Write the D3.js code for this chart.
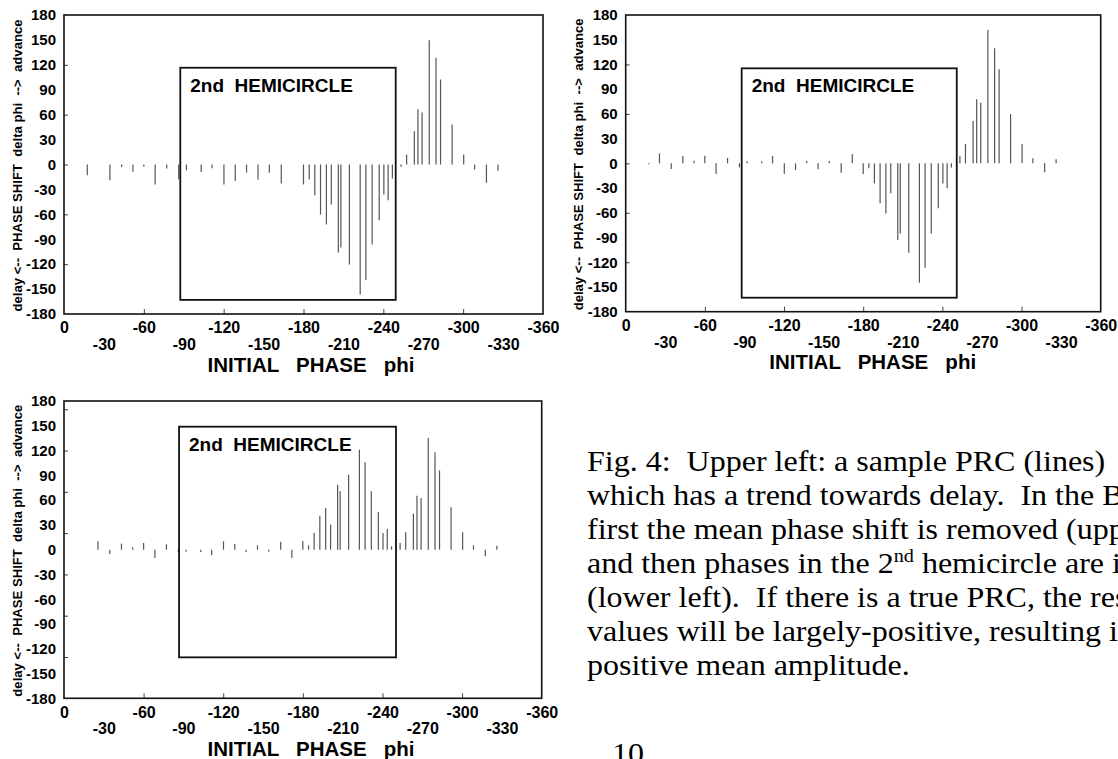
<!DOCTYPE html>
<html>
<head>
<meta charset="utf-8">
<script src="https://cdn.jsdelivr.net/npm/d3@7"></script>
<style>
  html, body { margin: 0; padding: 0; background: #fff; }
  svg { display: block; }
  text { white-space: pre; }
</style>
</head>
<body>
<svg id="chart"></svg>
<script>
// initial phase of every pulse (degrees, axis runs 0 .. -360)
const phases = [
  -17.5, -25.6, -34.5, -43.3, -51.8, -60.0, -68.5, -77.2, -86.2, -92.0,
  -103.1, -111.3, -120.2, -128.7, -137.2, -145.8, -154.3, -163.3, -171.7, -180.0,
  -184.3, -188.5, -192.8, -197.2, -200.9, -206.2, -208.1, -214.5, -222.6, -226.9,
  -231.6, -236.9, -240.4, -243.6, -246.8, -253.3, -257.5, -263.3, -266.0, -269.1,
  -274.5, -279.6, -283.0, -291.7, -300.4, -308.6, -317.5, -326.2
];

// upper left: raw PRC
const shiftRaw = [
  -12.8, 0, -18.9, -3, -8.8, -2.8, -24, -4.8, -17.7, -7,
  -9, -4.5, -24, -20, -9.6, -18.5, -10, -22.9, 0, -24,
  -18, -36.9, -60.2, -72.2, -48.2, -106, -100, -120.4, -156.5, -139.2,
  -96.3, -67, -36.1, -42.9, -16.9, -2.8, 12, 40.1, 66.6, 62.6,
  149.7, 128.4, 102.3, 48.2, 12, -6, -22, -7.6
];

// upper right: mean phase shift removed
const shiftCentered = [
  -1, 12.1, -6.9, 8.9, 3.2, 9.3, -12.9, 6.5, -4.9, 2.4,
  2.4, 8.9, -12.9, -8.1, 2.8, -7.3, 2.8, -11.3, 11.3, -12.9,
  -6, -24.3, -48.5, -60.7, -36.4, -93, -85, -108.4, -144.8, -126.6,
  -85, -54.6, -24.3, -30.3, -4.9, 8.9, 23.5, 51.4, 77.7, 73.6,
  161.8, 139.6, 114.1, 59.9, 23.5, 6.1, -10.9, 4.9
];

// lower left: 2nd hemicircle inverted
const shiftFlipped = [
  0, 10.1, -5.2, 7.3, 2.8, 8, -10.1, 6.5, -3.2, -2.4,
  -2.8, -6.9, 10.1, 6.9, -2.8, 5.2, -2.4, 9.7, -10.1, 10.5,
  5.2, 20.6, 41.2, 50.4, 30.3, 78.7, 70.6, 90.8, 121.1, 105.7,
  70.6, 45.6, 20.2, 25, 4, 8.1, 21, 43.6, 65.4, 62.6,
  135.2, 117.8, 96, 51.3, 21, 5.2, -8.1, 4.8
];

const yTickLabels = [180, 150, 120, 90, 60, 30, 0, -30, -60, -90, -120, -150, -180];
const xTickLabelsTop = [0, -60, -120, -180, -240, -300, -360];
const xTickLabelsBottom = [-30, -90, -150, -210, -270, -330];
const xTickMarks = [-60, -120, -180, -240, -300];
const yTickMarksUpper = [120, 60, 0, -60, -120];
const yTickMarksLower = [170, 120, 70, 20, -30, -80, -130];

// "2nd HEMICIRCLE" frame: [phase from, phase to, shift top, shift bottom]
const hemiBoxLeft = [-87.4, -249.3, 116.5, -163];
const hemiBoxRight = [-87.9, -250.9, 115.3, -163];
const hemiBoxLower = [-86.7, -250.2, 148.9, -130.4];

const captionLines = [
  "Fig. 4:  Upper left: a sample PRC (lines)",
  "which has a trend towards delay.  In the B",
  "first the mean phase shift is removed (upp",
  "and then phases in the 2|nd| hemicircle are i",
  "(lower left).  If there is a true PRC, the res",
  "values will be largely-positive, resulting i",
  "positive mean amplitude."
];
const pageNumber = "10";

const width = 1118;
const height = 759;
const sans = "'Liberation Sans', Arial, sans-serif";
const serif = "'Liberation Serif', 'Times New Roman', serif";
const fmt = (d) => String(d);

const svg = d3.select("#chart").attr("width", width).attr("height", height);
svg.append("rect").attr("width", width).attr("height", height).attr("fill", "#fff");

const panels = [
  { values: shiftRaw, left: 64, right: 543, top: 15, bottom: 314, yMarks: yTickMarksUpper, box: hemiBoxLeft },
  { values: shiftCentered, left: 625.7, right: 1100.7, top: 15, bottom: 311.7, yMarks: yTickMarksUpper, box: hemiBoxRight },
  { values: shiftFlipped, left: 64, right: 541.7, top: 401, bottom: 698.3, yMarks: yTickMarksLower, box: hemiBoxLower }
];

function styleText(sel, size) {
  sel.selectAll("text")
    .attr("font-family", sans)
    .attr("font-weight", "bold")
    .attr("font-size", size)
    .attr("fill", "#000");
}

function drawPanel(p) {
  const x = d3.scaleLinear().domain([0, -360]).range([p.left, p.right]);
  const y = d3.scaleLinear().domain([-180, 180]).range([p.bottom, p.top]);
  const g = svg.append("g");

  // PRC lines
  const pts = phases.map((ph, i) => ({ ph, v: p.values[i] })).filter((d) => d.v !== 0);
  g.selectAll("line.bar")
    .data(pts)
    .join("line")
    .attr("class", "bar")
    .attr("x1", (d) => x(d.ph))
    .attr("x2", (d) => x(d.ph))
    .attr("y1", y(0))
    .attr("y2", (d) => y(d.v))
    .attr("stroke", "#555")
    .attr("stroke-width", 1.2);

  // y tick labels
  g.append("g")
    .attr("transform", `translate(${p.left},0)`)
    .call(d3.axisLeft(y).tickValues(yTickLabels).tickSize(0).tickPadding(8).tickFormat(fmt))
    .call((a) => a.select(".domain").remove())
    .call((a) => styleText(a, 15));

  // y tick marks (inward)
  g.append("g")
    .attr("transform", `translate(${p.left},0)`)
    .call(d3.axisLeft(y).tickValues(p.yMarks).tickSize(-4).tickFormat(""))
    .call((a) => a.select(".domain").remove())
    .call((a) => a.selectAll("line").attr("stroke", "#444"));

  // x tick labels, two staggered rows
  g.append("g")
    .attr("transform", `translate(0,${p.bottom})`)
    .call(d3.axisBottom(x).tickValues(xTickLabelsTop).tickSize(0).tickPadding(8).tickFormat(fmt))
    .call((a) => a.select(".domain").remove())
    .call((a) => styleText(a, 16));

  g.append("g")
    .attr("transform", `translate(0,${p.bottom})`)
    .call(d3.axisBottom(x).tickValues(xTickLabelsBottom).tickSize(0).tickPadding(24.6).tickFormat(fmt))
    .call((a) => a.select(".domain").remove())
    .call((a) => styleText(a, 16));

  // x tick marks (inward)
  g.append("g")
    .attr("transform", `translate(0,${p.bottom})`)
    .call(d3.axisBottom(x).tickValues(xTickMarks).tickSize(-5).tickFormat(""))
    .call((a) => a.select(".domain").remove())
    .call((a) => a.selectAll("line").attr("stroke", "#444"));

  // plot frame
  g.append("rect")
    .attr("x", p.left)
    .attr("y", p.top)
    .attr("width", p.right - p.left)
    .attr("height", p.bottom - p.top)
    .attr("fill", "none")
    .attr("stroke", "#111")
    .attr("stroke-width", 1.6);

  // 2nd hemicircle frame
  const [b0, b1, bt, bb] = p.box;
  g.append("rect")
    .attr("x", x(b0))
    .attr("y", y(bt))
    .attr("width", x(b1) - x(b0))
    .attr("height", y(bb) - y(bt))
    .attr("fill", "none")
    .attr("stroke", "#111")
    .attr("stroke-width", 1.8);

  g.append("text")
    .attr("x", x(b0) + 10)
    .attr("y", y(bt) + 24)
    .attr("xml:space", "preserve")
    .attr("font-family", sans)
    .attr("font-weight", "bold")
    .attr("font-size", 19)
    .text("2nd  HEMICIRCLE");

  // axis titles
  g.append("text")
    .attr("x", p.left + 143.5)
    .attr("y", p.bottom + 57.5)
    .attr("xml:space", "preserve")
    .attr("font-family", sans)
    .attr("font-weight", "bold")
    .attr("font-size", 20.5)
    .text("INITIAL   PHASE   phi");

  const cy = (p.top + p.bottom) / 2 + 1;
  g.append("text")
    .attr("transform", `translate(${p.left - 42.5},${cy}) rotate(-90)`)
    .attr("text-anchor", "middle")
    .attr("xml:space", "preserve")
    .attr("font-family", sans)
    .attr("font-weight", "bold")
    .attr("font-size", 13)
    .attr("textLength", 292)
    .attr("lengthAdjust", "spacingAndGlyphs")
    .text("delay <--  PHASE SHIFT  delta phi  -->  advance");
}

panels.forEach(drawPanel);

// caption (scan is a little wider than tall, so stretch x)
const cap = svg.append("g")
  .attr("font-family", serif)
  .attr("font-size", 30)
  .attr("fill", "#000");

captionLines.forEach((line, i) => {
  const t = cap.append("text")
    .attr("xml:space", "preserve")
    .attr("transform", `translate(587,${471 + i * 34}) scale(1.067,1)`);
  line.split("|").forEach((seg, j) => {
    const s = t.append("tspan").text(seg);
    if (j % 2 === 1) s.attr("baseline-shift", "super").attr("font-size", 19);
  });
});

cap.append("text")
  .attr("transform", "translate(612,763) scale(1.067,1)")
  .text(pageNumber);
</script>
</body>
</html>
